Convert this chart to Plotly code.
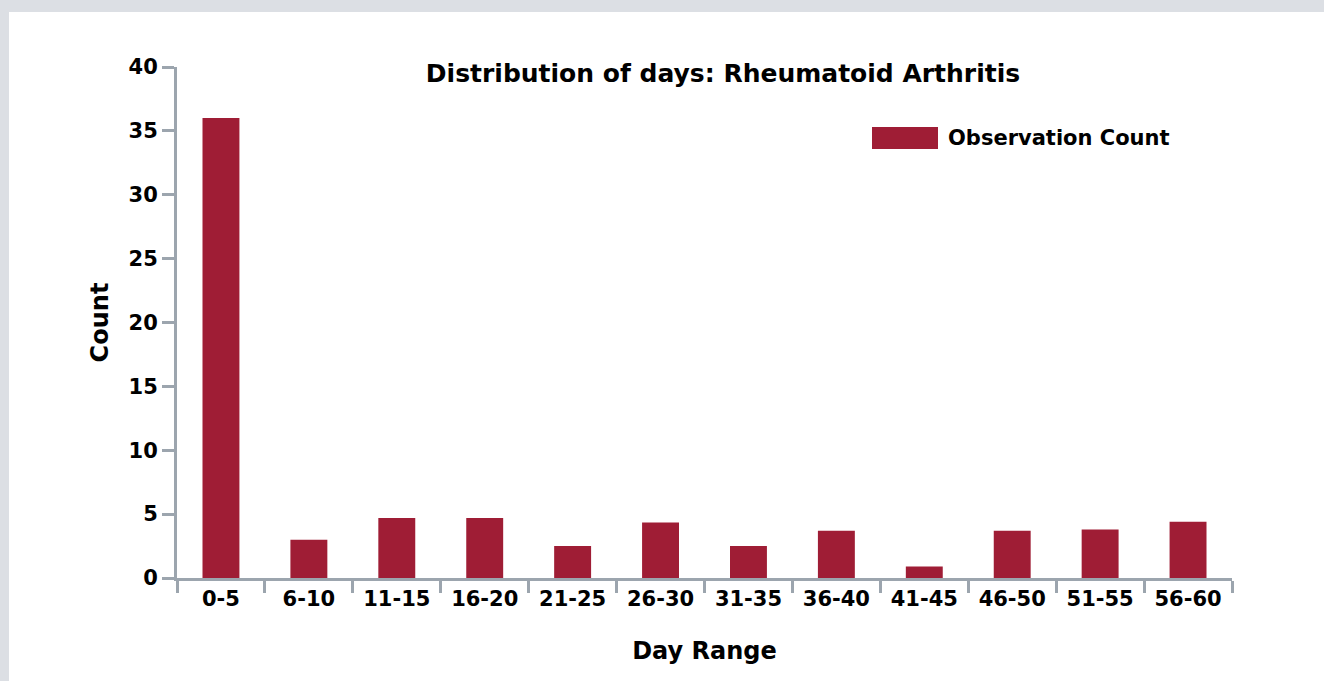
import plotly.graph_objects as go

categories = ["0-5", "6-10", "11-15", "16-20", "21-25", "26-30",
              "31-35", "36-40", "41-45", "46-50", "51-55", "56-60"]
counts = [36, 3.0, 4.7, 4.7, 2.5, 4.35, 2.5, 3.7, 0.9, 3.7, 3.8, 4.4]
y_ticks = [0, 5, 10, 15, 20, 25, 30, 35, 40]

series_name = "Observation Count"
title_text = "Distribution of days: Rheumatoid Arthritis"
x_title = "Day Range"
y_title = "Count"

BAR = "#9f1d35"
AXIS = "#9ca5ae"
FONT = "DejaVu Sans"

W, H = 1324, 681
L, R, T, B = 177, 92, 67, 103
pw, ph = W - L - R, H - T - B


def px(x):
    return (x - L) / pw


def py(y):
    return (H - B - y) / ph


fig = go.Figure()
fig.add_trace(go.Bar(x=categories, y=counts, name=series_name,
                     marker=dict(color=BAR, line=dict(width=0)),
                     showlegend=False))

shapes = [
    # white panel over grey page
    dict(type="rect", xref="paper", yref="paper", layer="below",
         x0=px(9), x1=1.3, y0=-0.4, y1=py(12),
         fillcolor="white", line=dict(width=0)),
    # legend swatch
    dict(type="rect", xref="paper", yref="paper",
         x0=px(872), x1=px(938), y0=py(149), y1=py(127),
         fillcolor=BAR, line=dict(width=0)),
]

annotations = [
    dict(text=series_name, xref="paper", yref="paper", x=px(946), y=py(138),
         xanchor="left", yanchor="middle", showarrow=False,
         font=dict(family=FONT, size=21, color="black", weight="bold")),
]

fig.update_layout(
    width=W, height=H,
    margin=dict(l=L, r=R, t=T, b=B, pad=0),
    paper_bgcolor="#dcdfe4",
    plot_bgcolor="rgba(0,0,0,0)",
    bargap=0.58,
    title=dict(text=title_text, x=723 / W, xanchor="center",
               y=1 - 73 / H, yanchor="middle",
               font=dict(family=FONT, size=25, color="black", weight="bold")),
    shapes=shapes,
    annotations=annotations,
    showlegend=False,
    xaxis=dict(
        type="category", showgrid=False, zeroline=False,
        showline=True, linecolor=AXIS, linewidth=3,
        ticks="outside", tickson="boundaries", ticklen=12, tickwidth=3,
        tickcolor=AXIS, automargin=False,
        tickfont=dict(family=FONT, size=21, color="black", weight="bold"),
        title=dict(text=x_title, standoff=32,
                   font=dict(family=FONT, size=24, color="black", weight="bold")),
    ),
    yaxis=dict(
        range=[0, 40], tickvals=y_ticks, showgrid=False, zeroline=False,
        showline=True, linecolor=AXIS, linewidth=3,
        ticks="outside", ticklen=12, tickwidth=3, tickcolor=AXIS,
        ticklabelstandoff=0, automargin=False,
        tickfont=dict(family=FONT, size=21, color="black", weight="bold"),
        title=dict(text=y_title, standoff=14,
                   font=dict(family=FONT, size=24, color="black", weight="bold")),
    ),
)

fig.write_html("out.html",
               config={"displayModeBar": False},
               post_script="document.body.style.margin='0';"
                           "document.body.style.background='#dcdfe4';")
